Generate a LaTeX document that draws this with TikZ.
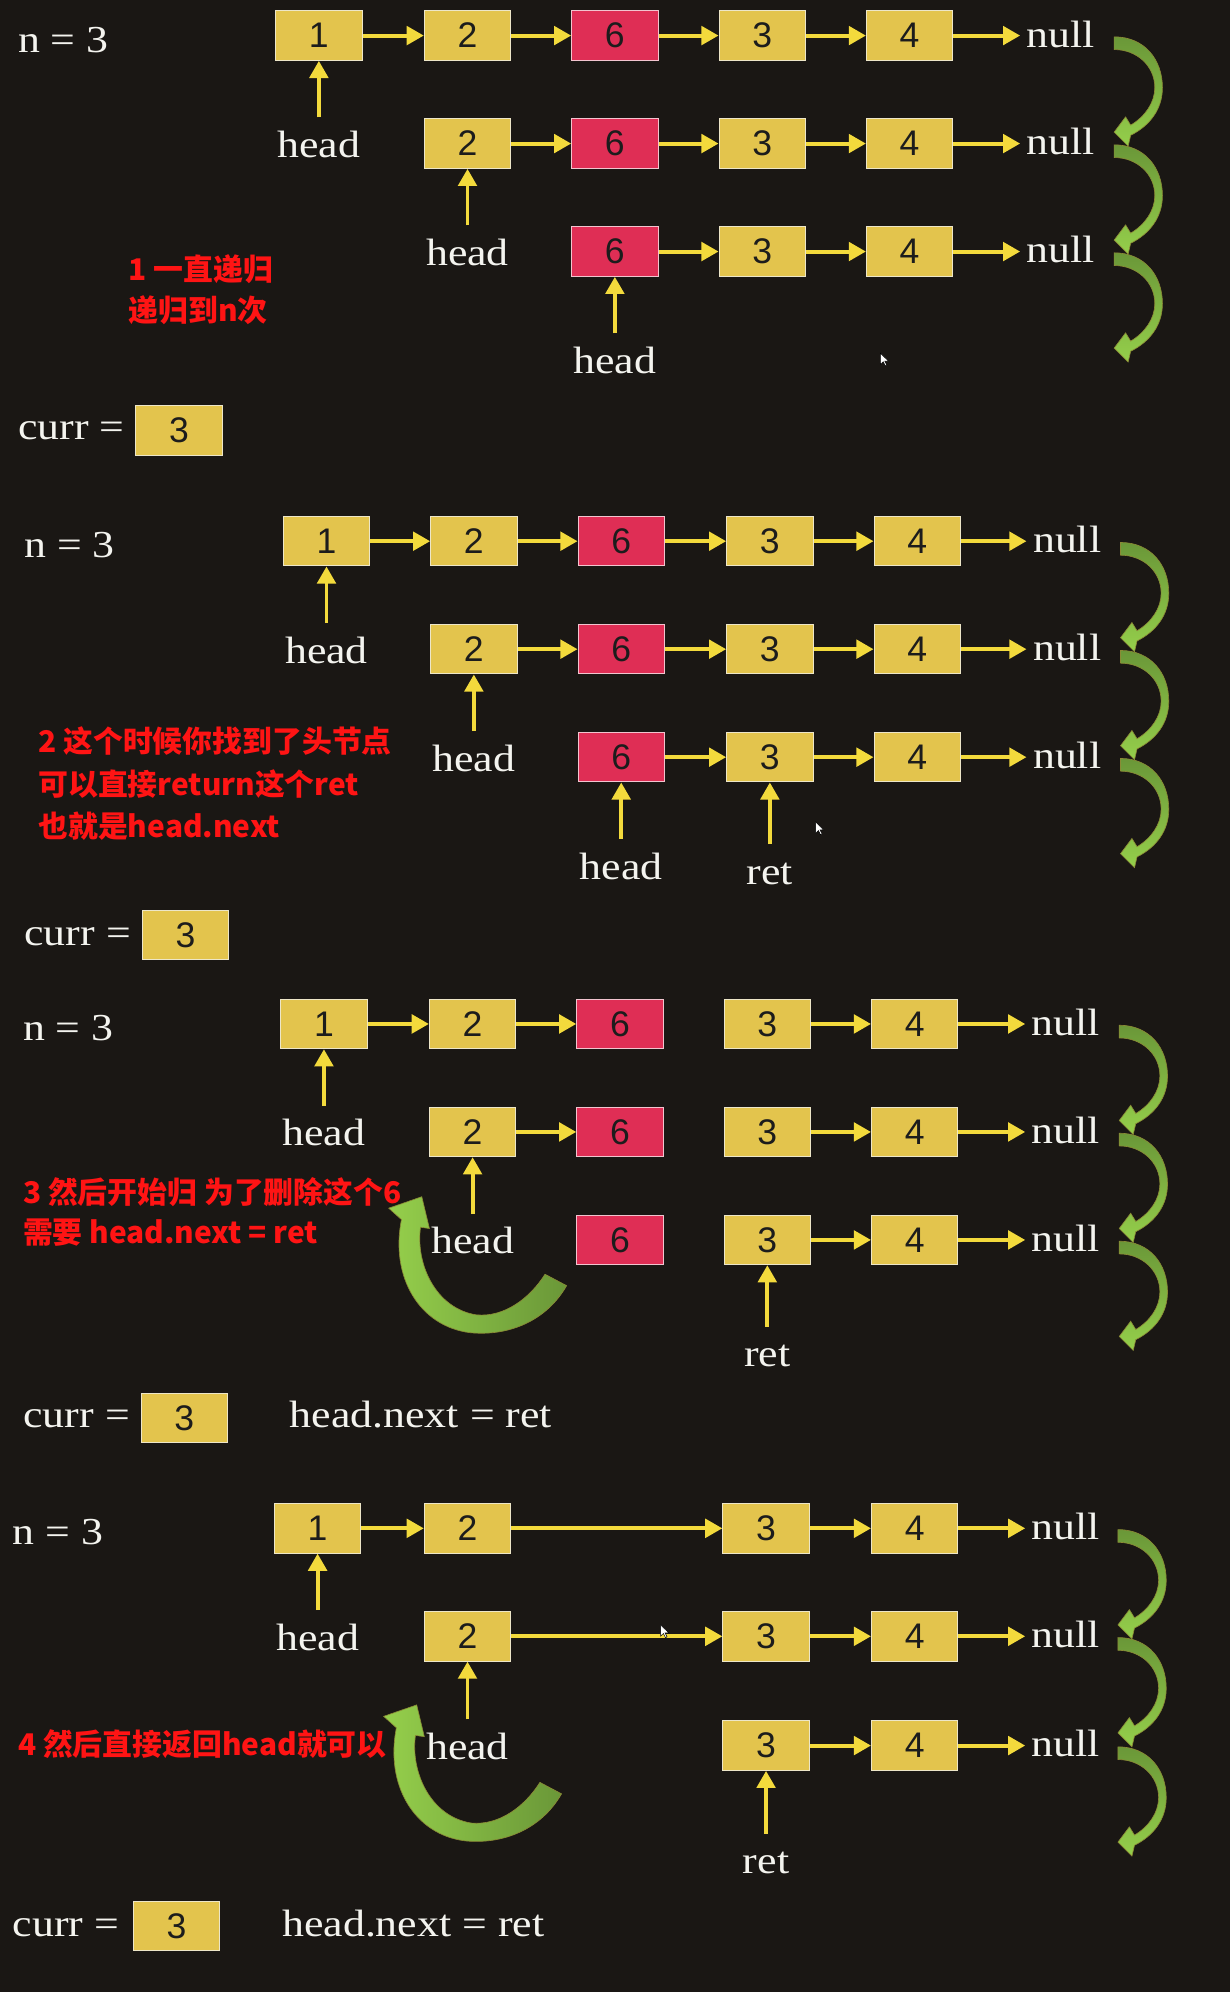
\documentclass[tikz,border=0pt]{standalone}
\usepackage{fontspec}
\newfontfamily\serf[FakeStretch=1.15]{Liberation Serif}
\newfontfamily\digf{Liberation Sans}
\newfontfamily\cjk{Noto Sans CJK SC}
\usetikzlibrary{arrows.meta}
\definecolor{bg}{HTML}{1A1714}
\definecolor{boxy}{HTML}{E3C44D}
\definecolor{boxedge}{HTML}{EDE6C8}
\definecolor{boxr}{HTML}{DF2E55}
\definecolor{boxredge}{HTML}{F2C4CF}
\definecolor{arrowy}{HTML}{F3DA3C}
\definecolor{redtxt}{HTML}{FF1414}
\definecolor{whitetxt}{HTML}{F4F4EF}
\definecolor{digit}{HTML}{1C1C1C}
\definecolor{gdark}{HTML}{6A9738}
\definecolor{glight}{HTML}{95CF4B}
\definecolor{gedge}{HTML}{8A8A35}
\tikzset{
  yb/.style={rectangle, fill=boxy, draw=boxedge, line width=0.8pt, minimum width=68pt, minimum height=39pt, inner sep=0pt, text=digit, font=\digf\fontsize{28}{28}\selectfont},
  rb/.style={yb, fill=boxr, draw=boxredge},
  ya/.style={draw=arrowy, line width=3.1pt, -{Triangle[length=13.5pt,width=14.5pt]}},
  nul/.style={anchor=base west, inner sep=0pt, text=whitetxt, font=\serf\fontsize{30}{34}\selectfont},
  lbl/.style={anchor=base, inner sep=0pt, text=whitetxt, font=\serf\fontsize{30}{34}\selectfont},
  wtxt/.style={anchor=base west, inner sep=0pt, text=whitetxt, font=\serf\fontsize{30}{34}\selectfont},
  rtxt/.style={anchor=base west, inner sep=0pt, text=redtxt, font=\cjk\bfseries\fontsize{23.5}{28}\selectfont},
  headarr/.style={ya, shorten <=10.5pt},
  retarr/.style={ya, shorten <=14.5pt},
  nullarr/.style={ya, shorten >=5pt},
  sidearr/.pic={\shadedraw[top color=gdark, bottom color=glight, draw=gedge, line width=0.5pt]
     (0,0) .. controls (24,0) and (38,18) .. (38,40) .. controls (38,57) and (28,70) .. (13,77.5)
     -- (11,86) -- (0,75) -- (9,63) -- (13,69.5)
     .. controls (24,63) and (32,52) .. (32,40) .. controls (32,23) and (18,10) .. (0,10) -- cycle;},
  bigarr/.pic={\shadedraw[left color=glight, right color=gdark, draw=gedge, line width=0.5pt]
     (66,12) .. controls (50,40) and (20,52) .. (-10,49) .. controls (-50,44) and (-73,5) .. (-64,-40)
     -- (-74,-49) -- (-48,-58) -- (-42,-33) -- (-49,-34)
     .. controls (-53,-5) and (-37,30) .. (-5,35) .. controls (17,37) and (37,22) .. (49,3) -- cycle;},
  cursor/.pic={\filldraw[fill=white, draw=black, line width=0.4pt, scale=0.8]
     (0,0) -- (0,11) -- (2.8,8.5) -- (4.8,12.5) -- (6.3,11.8) -- (4.4,7.9) -- (8,7.8) -- cycle;},
}
\newcommand\currtext{curr\hspace{0.3em}=}
\begin{document}
\begin{tikzpicture}[x=1pt,y=-1pt]
\fill[bg] (0,0) rectangle (968,1568);
\useasboundingbox (0,0) rectangle (968,1568);

% ================= Panel 1 =================
\foreach \x/\v/\s [count=\i] in {251/1/yb,368/2/yb,484/6/rb,600/3/yb,716/4/yb}
  \node[\s] (p1a\i) at (\x,28) {\v};
\foreach \i/\j in {1/2,2/3,3/4,4/5} \draw[ya] (p1a\i) -- (p1a\j);
\node[nul] (p1an) at (808,37) {null};
\draw[nullarr] (p1a5) -- (p1a5 -| p1an.west);
\foreach \x/\v/\s [count=\i] in {368/2/yb,484/6/rb,600/3/yb,716/4/yb}
  \node[\s] (p1b\i) at (\x,113) {\v};
\foreach \i/\j in {1/2,2/3,3/4} \draw[ya] (p1b\i) -- (p1b\j);
\node[nul] (p1bn) at (808,122) {null};
\draw[nullarr] (p1b4) -- (p1b4 -| p1bn.west);
\foreach \x/\v/\s [count=\i] in {484/6/rb,600/3/yb,716/4/yb}
  \node[\s] (p1c\i) at (\x,198) {\v};
\foreach \i/\j in {1/2,2/3} \draw[ya] (p1c\i) -- (p1c\j);
\node[nul] (p1cn) at (808,207) {null};
\draw[nullarr] (p1c3) -- (p1c3 -| p1cn.west);
\node[lbl] (p1h1) at (251,124) {head};
\draw[headarr] (p1h1) -- (p1a1);
\node[lbl] (p1h2) at (368,209) {head};
\draw[headarr] (p1h2) -- (p1b1);
\node[lbl] (p1h3) at (484,294) {head};
\draw[headarr] (p1h3) -- (p1c1);
\node[rtxt] (p1t1) at (101,221) {1 一直递归};
\node[rtxt] (p1t2) at (101,253) {递归到n次};
\node[wtxt] (p1n) at (14,41) {n = 3};
\node[wtxt] (p1cu) at (14,346) {\currtext};
\node[yb] (p1cb) at (141,339) {3};
\foreach \y in {29,114,199} \pic at (877,\y) {sidearr};
\pic at (693,278) {cursor};

% ================= Panel 2 =================
\foreach \x/\v/\s [count=\i] in {257/1/yb,373/2/yb,489/6/rb,606/3/yb,722/4/yb}
  \node[\s] (p2a\i) at (\x,426) {\v};
\foreach \i/\j in {1/2,2/3,3/4,4/5} \draw[ya] (p2a\i) -- (p2a\j);
\node[nul] (p2an) at (813,435) {null};
\draw[nullarr] (p2a5) -- (p2a5 -| p2an.west);
\foreach \x/\v/\s [count=\i] in {373/2/yb,489/6/rb,606/3/yb,722/4/yb}
  \node[\s] (p2b\i) at (\x,511) {\v};
\foreach \i/\j in {1/2,2/3,3/4} \draw[ya] (p2b\i) -- (p2b\j);
\node[nul] (p2bn) at (813,520) {null};
\draw[nullarr] (p2b4) -- (p2b4 -| p2bn.west);
\foreach \x/\v/\s [count=\i] in {489/6/rb,606/3/yb,722/4/yb}
  \node[\s] (p2c\i) at (\x,596) {\v};
\foreach \i/\j in {1/2,2/3} \draw[ya] (p2c\i) -- (p2c\j);
\node[nul] (p2cn) at (813,605) {null};
\draw[nullarr] (p2c3) -- (p2c3 -| p2cn.west);
\node[lbl] (p2h1) at (257,522) {head};
\draw[headarr] (p2h1) -- (p2a1);
\node[lbl] (p2h2) at (373,607) {head};
\draw[headarr] (p2h2) -- (p2b1);
\node[lbl] (p2h3) at (489,692) {head};
\draw[headarr] (p2h3) -- (p2c1);
\node[lbl] (p2r) at (606,696) {ret};
\draw[retarr] (p2r) -- (p2c2);
\node[rtxt] (p2t1) at (30,592) {2 这个时候你找到了头节点};
\node[rtxt] (p2t2) at (30,626) {可以直接return这个ret};
\node[rtxt] (p2t3) at (30,659) {也就是head.next};
\node[wtxt] (p2n) at (19,439) {n = 3};
\node[wtxt] (p2cu) at (19,744) {\currtext};
\node[yb] (p2cb) at (146,736) {3};
\foreach \y in {427,512,597} \pic at (882,\y) {sidearr};
\pic at (642,647) {cursor};

% ================= Panel 3 =================
\foreach \x/\v/\s [count=\i] in {255/1/yb,372/2/yb,488/6/rb,604/3/yb,720/4/yb}
  \node[\s] (p3a\i) at (\x,806) {\v};
\foreach \i/\j in {1/2,2/3,4/5} \draw[ya] (p3a\i) -- (p3a\j);
\node[nul] (p3an) at (812,815) {null};
\draw[nullarr] (p3a5) -- (p3a5 -| p3an.west);
\foreach \x/\v/\s [count=\i] in {372/2/yb,488/6/rb,604/3/yb,720/4/yb}
  \node[\s] (p3b\i) at (\x,891) {\v};
\foreach \i/\j in {1/2,3/4} \draw[ya] (p3b\i) -- (p3b\j);
\node[nul] (p3bn) at (812,900) {null};
\draw[nullarr] (p3b4) -- (p3b4 -| p3bn.west);
\foreach \x/\v/\s [count=\i] in {488/6/rb,604/3/yb,720/4/yb}
  \node[\s] (p3c\i) at (\x,976) {\v};
\foreach \i/\j in {2/3} \draw[ya] (p3c\i) -- (p3c\j);
\node[nul] (p3cn) at (812,985) {null};
\draw[nullarr] (p3c3) -- (p3c3 -| p3cn.west);
\node[lbl] (p3h1) at (255,902) {head};
\draw[headarr] (p3h1) -- (p3a1);
\node[lbl] (p3h2) at (372,987) {head};
\draw[headarr] (p3h2) -- (p3b1);
\node[lbl] (p3r) at (604,1076) {ret};
\draw[retarr] (p3r) -- (p3c2);
\pic at (380,1000) {bigarr};
\node[rtxt] (p3t1) at (18,947) {3 然后开始归 为了删除这个6};
\node[rtxt] (p3t2) at (18,979) {需要 head.next = ret};
\node[wtxt] (p3n) at (18,819) {n = 3};
\node[wtxt] (p3cu) at (18,1124) {\currtext};
\node[yb] (p3cb) at (145,1116) {3};
\node[wtxt] (p3hn) at (228,1124) {head.next = ret};
\foreach \y in {807,892,977} \pic at (881,\y) {sidearr};

% ================= Panel 4 =================
\foreach \x/\v/\s [count=\i] in {250/1/yb,368/2/yb,603/3/yb,720/4/yb}
  \node[\s] (p4a\i) at (\x,1203) {\v};
\foreach \i/\j in {1/2,2/3,3/4} \draw[ya] (p4a\i) -- (p4a\j);
\node[nul] (p4an) at (812,1212) {null};
\draw[nullarr] (p4a4) -- (p4a4 -| p4an.west);
\foreach \x/\v/\s [count=\i] in {368/2/yb,603/3/yb,720/4/yb}
  \node[\s] (p4b\i) at (\x,1288) {\v};
\foreach \i/\j in {1/2,2/3} \draw[ya] (p4b\i) -- (p4b\j);
\node[nul] (p4bn) at (812,1297) {null};
\draw[nullarr] (p4b3) -- (p4b3 -| p4bn.west);
\foreach \x/\v/\s [count=\i] in {603/3/yb,720/4/yb}
  \node[\s] (p4c\i) at (\x,1374) {\v};
\draw[ya] (p4c1) -- (p4c2);
\node[nul] (p4cn) at (812,1383) {null};
\draw[nullarr] (p4c2) -- (p4c2 -| p4cn.west);
\node[lbl] (p4h1) at (250,1299) {head};
\draw[headarr] (p4h1) -- (p4a1);
\node[lbl] (p4h2) at (368,1385) {head};
\draw[headarr] (p4h2) -- (p4b1);
\node[lbl] (p4r) at (603,1475) {ret};
\draw[retarr] (p4r) -- (p4c1);
\pic at (376,1400) {bigarr};
\node[rtxt] (p4t1) at (14,1382) {4 然后直接返回head就可以};
\node[wtxt] (p4n) at (10,1216) {n = 3};
\node[wtxt] (p4cu) at (10,1524) {\currtext};
\node[yb] (p4cb) at (139,1516) {3};
\node[wtxt] (p4hn) at (222,1524) {head.next = ret};
\foreach \y in {1204,1289,1375} \pic at (880,\y) {sidearr};
\pic at (520,1279) {cursor};
\end{tikzpicture}
\end{document}
